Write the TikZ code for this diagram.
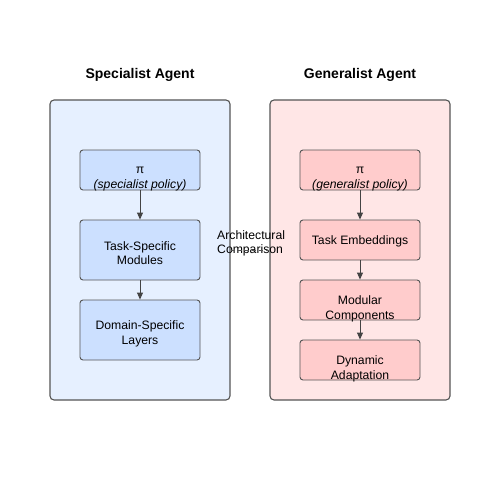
\documentclass[tikz,border=0pt]{standalone}
\usepackage{fontspec}
\setmainfont{Liberation Sans}
\usetikzlibrary{arrows.meta}
\definecolor{specbg}{HTML}{E6F0FF}
\definecolor{specfill}{HTML}{CCE0FF}
\definecolor{genbg}{HTML}{FFE6E6}
\definecolor{genfill}{HTML}{FFCCCC}
\definecolor{edgegray}{HTML}{555555}
\definecolor{flowgray}{HTML}{444444}

\begin{document}
\begin{tikzpicture}[x=1pt,y=-1pt,
  panel/.style={draw=edgegray,line width=1.1pt,rounded corners=4pt,
    minimum width=180pt,minimum height=300pt,inner sep=0pt},
  block/.style={draw=edgegray,line width=0.9pt,rounded corners=3pt,
    minimum width=120pt,inner sep=0pt},
  blocktext/.style={align=center,inner sep=0pt,font=\fontsize{12.2}{14.5}\selectfont},
  heading/.style={font=\fontsize{14}{16}\selectfont\bfseries},
  flow/.style={draw=flowgray,line width=0.9pt,-{Triangle[length=7pt,width=6pt]}},
  compare/.style={draw=edgegray,line width=0.9pt,dash pattern=on 4pt off 3pt}]
		%%%%% START %%%%%
		\useasboundingbox (0,0) rectangle (500,500);
		
		% left column
		\node[heading] (spectitle) at (140,75) {Specialist Agent};
		\node[panel,fill=specbg] (specpanel) at (140,250) {};
		\node[block,fill=specfill,minimum height=40pt] (specpi) at (140,170) {};
		\node[block,fill=specfill,minimum height=60pt] (spectask) at (140,250) {};
		\node[block,fill=specfill,minimum height=60pt] (specdomain) at (140,330) {};
		\node[blocktext] (specpitext) at (140,179) {π\\\textit{(specialist policy)}};
		\node[blocktext] (spectasktext) at (140,253) {Task-Specific\\Modules};
		\node[blocktext] (specdomaintext) at (140,334) {Domain-Specific\\Layers};
		\draw[flow] (specpi) -- (spectask);
		\draw[flow] (spectask) -- (specdomain);
		
		% right column
		\node[heading] (gentitle) at (360,75) {Generalist Agent};
		\node[panel,fill=genbg] (genpanel) at (360,250) {};
		\node[block,fill=genfill,minimum height=40pt] (genpi) at (360,170) {};
		\node[block,fill=genfill,minimum height=40pt] (genembed) at (360,240) {};
		\node[block,fill=genfill,minimum height=40pt] (genmodular) at (360,300) {};
		\node[block,fill=genfill,minimum height=40pt] (gendynamic) at (360,360) {};
		\node[blocktext] (genpitext) at (360,179) {π\\\textit{(generalist policy)}};
		\node[blocktext] (genembedtext) at (360,241) {Task Embeddings};
		\node[blocktext] (genmodulartext) at (360,309) {Modular\\Components};
		\node[blocktext] (gendynamictext) at (360,369) {Dynamic\\Adaptation};
		\draw[flow] (genpi) -- (genembed);
		\draw[flow] (genembed) -- (genmodular);
		\draw[flow] (genmodular) -- (gendynamic);
		
		% comparison
		\node[blocktext,align=left,anchor=west] (comparetext) at (217,243.5) {Architectural\\Comparison};
		\draw[compare] (specpanel.east) -- (genpanel.west);
		%%%%% END %%%%%
\end{tikzpicture}
\end{document}
